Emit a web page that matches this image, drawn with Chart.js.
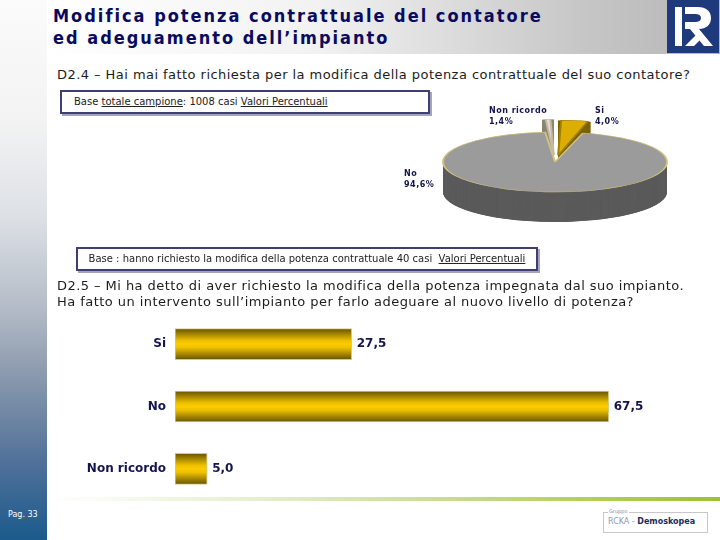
<!DOCTYPE html>
<html>
<head>
<meta charset="utf-8">
<script src="https://cdn.jsdelivr.net/npm/chart.js@4.4.1/dist/chart.umd.min.js"></script>
<style>
  body { margin: 0; width: 720px; height: 540px; position: relative; overflow: hidden; background: #fff; font-family: "DejaVu Sans", Verdana, sans-serif; }
  .abs { position: absolute; }
  #side { left: 0; top: 0; width: 47px; height: 540px; background: linear-gradient(#fbfbfb 0%, #f3f3f3 22%, #dde1e6 40%, #b7bec9 56%, #8998ad 70%, #52729a 85%, #1b5a8c 100%); }
  #head { left: 47px; top: 0; width: 673px; height: 54px; background: linear-gradient(90deg, #fff 0%, #f2f2f2 40%, #c6c6c6 80%, #b6b6b6 100%); }
  #title { left: 53px; top: 5px; font-family: "DejaVu Sans Condensed", "DejaVu Sans", sans-serif; font-weight: bold; font-size: 18px; line-height: 22px; letter-spacing: 2px; color: #0a0a60; white-space: nowrap; }
  #logo { left: 667px; top: 0; }
  .q { left: 57px; font-size: 13px; letter-spacing: 0.45px; color: #1c1c1c; white-space: nowrap; }
  .box { border: 2px solid #3e3e70; box-shadow: 2px 2px 0 #a4a4bc; background: #fff; height: 20px; box-sizing: content-box; font-size: 10px; color: #222; line-height: 20px; white-space: nowrap; }
  .box u { text-decoration: underline; }
  .pl { font-size: 8px; font-weight: bold; letter-spacing: 0.5px; color: #14144e; line-height: 11px; white-space: nowrap; }
  #green { left: 50px; top: 497px; width: 670px; height: 4px; background: linear-gradient(90deg, rgba(255,255,255,0) 0%, #e6efcf 30%, #b8d26a 75%, #9cc136 100%); }
  #pag { left: 8px; top: 510px; font-size: 8px; color: #fff; }
  #foot { left: 603px; top: 512px; width: 103px; height: 19px; border: 1px solid #c8c8c8; background: #fff; }
  #foot .g { position: absolute; left: 4px; top: -5px; font-size: 5px; color: #888; background: #fff; padding: 0 1px; }
  #foot .t { position: absolute; left: 4px; top: 4px; font-size: 8px; white-space: nowrap; color: #8a9ab8; }
  #foot .t b { color: #1c2c5c; }
</style>
</head>
<body>
<div id="side" class="abs"></div>
<div id="head" class="abs"></div>
<div id="title" class="abs">Modifica potenza contrattuale del contatore<br>ed adeguamento dell’impianto</div>
<svg id="logo" class="abs" width="52" height="53">
  <rect width="52" height="53" fill="#1f3a7c"/>
  <path d="M8 7h7v39h-7z" fill="#fff"/>
  <path d="M18 7h13c8 0 13 4 13 11s-5 11-12 11l14 17h-9l-14-17h-5v-7h10c4 0 6-1.5 6-4s-2-4-6-4h-10z" fill="#fff"/>
  <path d="M18 46l14-14 4 5-9 9z" fill="#fff"/>
</svg>

<div class="q abs" style="top:67px">D2.4 – Hai mai fatto richiesta per la modifica della potenza contrattuale del suo contatore?</div>
<div class="box abs" style="left:60px; top:90px; width:354px; padding-left:12px;">Base <u>totale campione</u>: 1008 casi <u>Valori Percentuali</u></div>

<canvas id="pie" class="abs" width="300" height="300" style="left:405px; top:12px;"></canvas>
<div id="pieLabels"></div>

<div class="box abs" style="left:76px; top:247px; width:458px; text-align:center;">Base : hanno richiesto la modifica della potenza contrattuale 40 casi&nbsp; <u>Valori Percentuali</u></div>
<div class="q abs" style="top:278px; line-height:16px;">D2.5 – Mi ha detto di aver richiesto la modifica della potenza impegnata dal suo impianto.<br>Ha fatto un intervento sull’impianto per farlo adeguare al nuovo livello di potenza?</div>

<canvas id="bars" class="abs" width="640" height="195" style="left:60px; top:310px;"></canvas>

<div id="green" class="abs"></div>
<div id="pag" class="abs">Pag. 33</div>
<div id="foot" class="abs"><span class="g">Gruppo</span><span class="t">RCKA - <b>Demoskopea</b></span></div>

<script>
// D2.4 - pie
const pieLabels = ['Si', 'No', 'Non ricordo']
const pieValues = [4.0, 94.6, 1.4]
// D2.5 - bars
const barLabels = ['Si', 'No', 'Non ricordo']
const barValues = [27.5, 67.5, 5.0]

const fmt = v => v.toFixed(1).replace('.', ',')

// pie label placement (display px)
const pieLabelPos = [[595, 105], [404, 168], [489, 105]]
const labelBox = document.getElementById('pieLabels')
pieLabels.forEach((l, i) => {
  const d = document.createElement('div')
  d.className = 'pl abs'
  d.style.left = pieLabelPos[i][0] + 'px'
  d.style.top = pieLabelPos[i][1] + 'px'
  d.innerHTML = l + '<br>' + fmt(pieValues[i]) + '%'
  labelBox.appendChild(d)
})

const squash = 30 / 112
const depth = 30 / squash
const sideColors = ['#7a6200', '#5b5b5b', '#8c8474']

// flatten the pie into an ellipse and extrude a side wall under every slice
const pie3d = {
  id: 'pie3d',
  beforeDatasetsDraw(chart) {
    const ctx = chart.ctx
    const arcs = chart.getDatasetMeta(0).data
    const cy = arcs[0].y
    ctx.save()
    ctx.translate(0, cy)
    ctx.scale(1, squash)
    ctx.translate(0, -cy)
    ;[1, 0, 2].forEach(i => {
      const el = arcs[i]
      const off = (el.options.offset || 0) / 4
      const mid = (el.startAngle + el.endAngle) / 2
      const fix = 1 - Math.sin(Math.min(Math.PI, el.circumference))
      const ox = el.x + Math.cos(mid) * off
      const oy = el.y + Math.sin(mid) * off
      const r = el.outerRadius + off * fix
      ctx.fillStyle = sideColors[i]
      for (let d = depth; d > 0; d -= 1) {
        ctx.beginPath()
        ctx.moveTo(ox, oy + d)
        ctx.arc(ox, oy + d, r, el.startAngle, el.endAngle)
        ctx.closePath()
        ctx.fill()
      }
    })
  },
  afterDatasetsDraw(chart) {
    chart.ctx.restore()
  }
}

new Chart(document.getElementById('pie'), {
  type: 'pie',
  data: {
    labels: pieLabels,
    datasets: [{
      data: pieValues,
      backgroundColor: ['#dcae00', '#9b9b9b', '#e6dfcf'],
      borderColor: ['#a08000', '#d2c27e', '#c4baa4'],
      borderWidth: 2,
      offset: [100, 0, 100],
      clip: false
    }]
  },
  options: {
    responsive: false,
    animation: false,
    events: [],
    radius: 112,
    layout: { padding: 0 },
    plugins: { legend: { display: false }, tooltip: { enabled: false } }
  },
  plugins: [pie3d]
})

const barFill = (c) => {
  const chart = c.chart
  if (!chart.chartArea || !chart.scales.y) return '#e8bc00'
  const y = chart.scales.y.getPixelForValue(c.dataIndex)
  const g = chart.ctx.createLinearGradient(0, y - 15.5, 0, y + 15.5)
  g.addColorStop(0, '#665200')
  g.addColorStop(0.15, '#9c7e00')
  g.addColorStop(0.38, '#ecbf00')
  g.addColorStop(0.5, '#fccc00')
  g.addColorStop(0.62, '#ecbf00')
  g.addColorStop(0.85, '#9c7e00')
  g.addColorStop(1, '#665200')
  return g
}

const valueLabels = {
  id: 'valueLabels',
  afterDatasetsDraw(chart) {
    const ctx = chart.ctx
    ctx.save()
    ctx.font = 'bold 12px "DejaVu Sans"'
    ctx.fillStyle = '#14144e'
    ctx.textBaseline = 'middle'
    chart.getDatasetMeta(0).data.forEach((el, i) => {
      ctx.fillText(fmt(barValues[i]), el.x + 5, el.y)
    })
    ctx.restore()
  }
}

new Chart(document.getElementById('bars'), {
  type: 'bar',
  data: {
    labels: barLabels,
    datasets: [{
      data: barValues,
      backgroundColor: barFill,
      borderColor: '#d8c888',
      borderWidth: 1,
      borderSkipped: false,
      barThickness: 31
    }]
  },
  options: {
    indexAxis: 'y',
    responsive: false,
    animation: false,
    events: [],
    layout: { padding: { top: 3, bottom: 5, right: 11, left: 0 } },
    scales: {
      x: { display: false, min: 0, max: 80 },
      y: {
        grid: { display: false, drawTicks: false },
        border: { display: false },
        ticks: { color: '#14144e', padding: 9, font: { family: 'DejaVu Sans', weight: 'bold', size: 12 } },
        afterFit(s) { s.width = 115; s.paddingTop = 0; s.paddingBottom = 0 }
      }
    },
    plugins: { legend: { display: false }, tooltip: { enabled: false } }
  },
  plugins: [valueLabels]
})
</script>
</body>
</html>
